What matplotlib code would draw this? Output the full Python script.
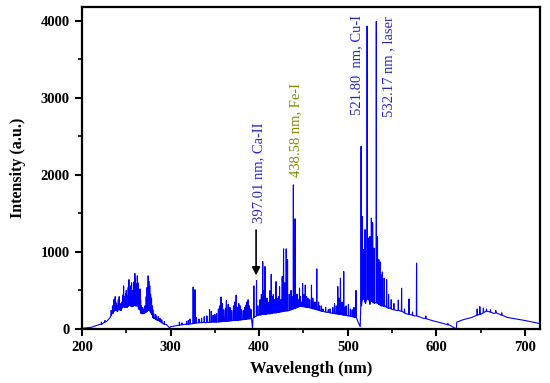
import numpy as np
import matplotlib
matplotlib.use('Agg')
import matplotlib.pyplot as plt
from matplotlib.ticker import MultipleLocator

# continuum (wavelength nm, intensity a.u.)
base_wl = [200, 210, 220, 228, 232, 234, 240, 245, 250, 255, 260, 265, 268, 272, 278,
           282, 286, 290, 295, 299, 300, 305, 315, 322, 330, 340, 350, 360, 370, 380,
           388, 391, 392.5, 393, 400, 410, 420, 430, 440, 445, 450, 460, 470, 480, 490,
           500, 508, 512, 514, 515.5, 518, 520, 523, 525, 528, 530, 534, 538, 542, 548,
           555, 565, 575, 585, 595, 605, 615, 621, 622.5, 623, 630, 640, 650, 657, 665,
           680, 700, 717]
base_int = [10, 20, 60, 100, 150, 220, 260, 300, 280, 320, 300, 260, 200, 220, 250,
            140, 120, 90, 60, 15, 30, 40, 60, 70, 80, 80, 90, 100, 110, 120,
            140, 130, 10, 140, 190, 200, 220, 240, 270, 300, 290, 260, 230, 210, 190,
            170, 150, 80, 30, 300, 420, 330, 380, 320, 400, 330, 380, 330, 300, 270,
            240, 200, 170, 140, 110, 80, 50, 10, 5, 90, 120, 150, 190, 230, 200,
            150, 110, 70]

# emission lines: position, top, foot
peak_wl = [222, 226, 236, 237.5, 239, 241, 243, 245, 247, 248.5, 250, 251.5, 253, 254.5,
           256, 257.5, 259.7, 261, 262.5, 264, 265.5, 267, 270, 272.5, 274.7, 276.5,
           278.5, 281, 284, 288,
           318, 322, 325.5, 327.5, 332, 338, 344, 348, 352, 357, 360, 363, 367, 371,
           374, 377, 380, 385, 387.5, 390,
           394, 397.0, 401, 404, 406.5, 409, 413.6, 416, 419, 421, 423, 426, 427.5,
           430.5, 432, 436, 438.58, 440.5, 443, 445.5, 447.5, 449, 452, 455, 459, 462,
           465, 468, 475, 480, 485, 488.7, 491.7, 495.4, 498, 500.7, 505, 509.3,
           515, 516.5, 518, 519.5, 521.8, 523.5, 525, 526.6, 528, 529.5, 532.17, 533.5,
           535, 536.7, 538, 539, 541, 543.8, 546, 549, 552, 557, 560.7, 564, 569, 573,
           577.6, 588, 613, 646, 649, 653, 656.5, 661, 667, 673.7]
peak_top = [90, 110, 380, 420, 330, 380, 300, 350, 560, 420, 500, 380, 640, 480,
            600, 500, 720, 560, 690, 420, 520, 300, 260, 420, 690, 560,
            400, 200, 170, 140,
            100, 130, 545, 510, 130, 160, 250, 180, 200, 415, 250, 370, 280, 300,
            440, 330, 250, 310, 380, 260,
            560, 630, 380, 875, 810, 400, 710, 450, 615, 400, 550, 680, 1040,
            1040, 900, 500, 1870, 1430, 450, 530, 350, 590, 570, 400, 570, 350,
            780, 300, 280, 260, 330, 550, 660, 745, 300, 320, 250, 500,
            2370, 1460, 1030, 1290, 3930, 1180, 1200, 1440, 1380, 1050, 3990, 1200,
            900, 870, 700, 740, 660, 640, 450, 380, 330, 375, 530, 260, 390, 220,
            855, 170, 70, 260, 290, 270, 260, 250, 240, 210]
peak_foot = [60, 90, 230, 250, 240, 260, 250, 270, 300, 280, 300, 290, 320, 300,
             310, 300, 330, 300, 320, 260, 250, 200, 200, 220, 250, 240,
             200, 140, 120, 100,
             60, 65, 70, 75, 80, 85, 85, 90, 90, 95, 100, 100, 105, 110,
             110, 115, 120, 125, 130, 135,
             150, 170, 180, 190, 190, 195, 200, 210, 210, 215, 220, 225, 230,
             235, 235, 250, 260, 265, 280, 290, 295, 290, 285, 280, 270, 260,
             250, 240, 220, 210, 200, 195, 190, 180, 175, 170, 160, 150,
             350, 380, 400, 350, 400, 380, 350, 360, 350, 340, 350, 330,
             320, 310, 300, 300, 290, 280, 270, 260, 250, 240, 230, 210, 190, 180,
             170, 135, 55, 180, 190, 210, 235, 220, 210, 180]

# weaker lines that fill the dense bands
weak_wl = [233, 234.5, 235.2, 238.2, 240, 242, 244, 246, 249.2, 250.7, 252.2, 253.8,
           255.2, 256.8, 258.5, 260.3, 261.8, 263.2, 264.7, 266.2, 268.5, 271, 273.5,
           275.5, 277.5, 279.5, 280, 283, 286, 290, 293,
           310, 313, 320, 329, 335, 341, 346, 350, 354, 355.5, 358.5, 362, 365, 369,
           372.5, 375.5, 378.5, 382, 383.5, 386, 389, 391,
           398.5, 402.5, 405, 407.8, 411, 412.3, 415, 417.5, 420, 422, 424.5, 429,
           434, 437, 442, 444, 446.5, 450.5, 453.5, 457, 460.5, 463.5, 467, 470, 472,
           478, 483, 487, 490, 493.5, 497, 503, 507]
weak_top = [240, 300, 260, 350, 300, 420, 330, 440, 460, 430, 540, 520,
            560, 470, 610, 650, 590, 600, 480, 380, 280, 300, 540,
            620, 450, 300, 250, 190, 160, 120, 100,
            90, 80, 110, 150, 140, 170, 230, 190, 260, 300, 330, 270, 320, 240,
            350, 280, 300, 240, 280, 350, 300, 250,
            300, 450, 500, 400, 350, 500, 420, 380, 380, 420, 380, 600,
            450, 420, 450, 380, 420, 450, 420, 380, 400, 350, 350, 300, 260,
            250, 280, 300, 400, 350, 280, 260, 280]
weak_foot = [180, 200, 210, 240, 230, 250, 240, 280, 290, 280, 300, 310,
             300, 290, 300, 320, 300, 300, 260, 230, 200, 210, 230,
             240, 220, 180, 150, 130, 110, 80, 60,
             50, 55, 62, 78, 82, 85, 88, 90, 92, 93, 97, 100, 102, 107,
             110, 112, 117, 122, 123, 128, 132, 135,
             175, 185, 190, 192, 197, 198, 205, 208, 212, 217, 222, 232,
             240, 255, 275, 285, 292, 288, 283, 275, 265, 255, 245, 235, 228,
             215, 205, 197, 192, 185, 178, 165, 155]

labels = ['397.01 nm, Ca-II', '438.58 nm, Fe-I', '521.80  nm, Cu-I', '532.17 nm , laser']
label_x = [399.5, 441, 509.7, 545.7]
label_y = [1370, 1975, 2780, 2750]
label_colors = ['#2626c4', '#8a8a00', '#2626c4', '#2626c4']

# merge continuum and line profiles into one trace
pw = np.concatenate([peak_wl, weak_wl])
ptop = np.concatenate([peak_top, weak_top])
pfoot = np.concatenate([peak_foot, weak_foot])
wl = np.concatenate([base_wl, pw - 0.25, pw, pw + 0.25])
inten = np.concatenate([base_int, pfoot, ptop, pfoot])
order = np.argsort(wl, kind='stable')
wl = wl[order]
inten = inten[order]

plt.rcParams['font.family'] = ['Liberation Serif', 'DejaVu Serif']

fig = plt.figure(figsize=(5.5, 3.83), dpi=100)
ax = fig.add_axes([0.149, 0.141, 0.833, 0.841])
ax.plot(wl, inten, color='#0000ff', lw=0.8)

for s, x, y, c in zip(labels, label_x, label_y, label_colors):
    ax.text(x, y, s, rotation=90, ha='center', va='bottom', color=c, fontsize=10.5)

# arrow pointing at the Ca-II line
ax.annotate('', xy=(396.5, 660), xytext=(396.5, 1320),
            arrowprops=dict(arrowstyle='-|>', color='black', lw=1.2,
                            mutation_scale=12))

ax.set_xlim(200, 717)
ax.set_ylim(0, 4180)
ax.xaxis.set_major_locator(MultipleLocator(100))
ax.xaxis.set_minor_locator(MultipleLocator(50))
ax.yaxis.set_major_locator(MultipleLocator(1000))
ax.yaxis.set_minor_locator(MultipleLocator(500))
ax.tick_params(which='major', direction='out', length=5, width=1.5, labelsize=10.5, pad=4)
ax.tick_params(which='minor', direction='out', length=3, width=1.2)
for lab in ax.get_xticklabels() + ax.get_yticklabels():
    lab.set_fontweight('bold')
for sp in ax.spines.values():
    sp.set_linewidth(1.6)

ax.set_xlabel('Wavelength (nm)', fontsize=12, fontweight='bold', labelpad=5)
ax.set_ylabel('Intensity (a.u.)', fontsize=11.5, fontweight='bold', labelpad=10)

fig.savefig('out.png', dpi=100)
